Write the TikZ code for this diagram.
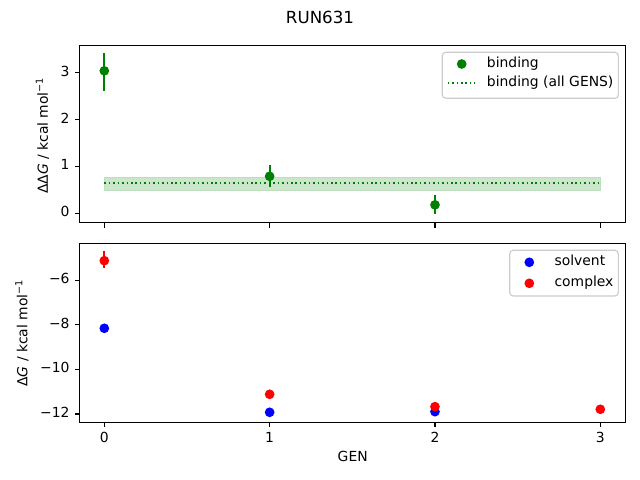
\documentclass[tikz,border=0pt]{standalone}
\usepackage{fontspec}
\setmainfont{DejaVu Sans}
\definecolor{mgreen}{RGB}{0,128,0}
\definecolor{mblue}{RGB}{0,0,255}
\definecolor{mred}{RGB}{255,0,0}
\definecolor{bandfill}{RGB}{204,230,204}
\definecolor{bandedge}{RGB}{190,222,190}
\definecolor{legedge}{RGB}{204,204,204}
\tikzset{
  lbl/.style={inner sep=0pt, text height=7.3pt, text depth=2.3pt},
  frame/.style={draw=black, line width=0.8pt},
  tck/.style={draw=black, line width=0.8pt},
  ebar/.style={line width=1.5pt},
  dot/.style={radius=3.5pt},
  legbox/.style={draw=legedge, fill=white, fill opacity=0.8, line width=0.8pt, rounded corners=2.5pt},
  dotline/.style={mgreen, line width=1.2pt, dash pattern=on 1.1pt off 2.1pt},
}
\begin{document}
\begin{tikzpicture}[x=0.72pt,y=-0.72pt, font=\fontsize{10}{12}\selectfont]
\fill[white] (0,0) rectangle (640,480);
\useasboundingbox (0,0) rectangle (640,480);

% title
\node[font=\fontsize{12}{14}\selectfont, inner sep=0pt] (title) at (320,17) {RUN631};

% ---------- top panel ----------
\begin{scope}[shift={(75.10pt,-153.58pt)}, x=119.04pt, y=33.746pt]
  \filldraw[fill=bandfill, draw=bandedge, line width=0.6pt] (0,0.482) rectangle (3,0.774);
  \draw[dotline] (0,0.646) -- (3,0.646);
  % data
  \draw[mgreen, ebar] (0,2.61) -- (0,3.41);
  \fill[mgreen] (0,3.04) circle[dot];
  \draw[mgreen, ebar] (1,0.57) -- (1,1.03);
  \fill[mgreen] (1,0.79) circle[dot];
  \draw[mgreen, ebar] (2,-0.02) -- (2,0.39);
  \fill[mgreen] (2,0.18) circle[dot];
  % frame
  \draw[frame] (-0.15,-0.2006) rectangle (3.15,3.584);
  \foreach \v in {0,1,2,3} {
    \draw[tck] (-0.15,\v) -- ++(-3.5pt,0);
    \node[lbl, anchor=east] (ty\v) at ([xshift=-7pt]-0.15,\v) {\v};
  }
  \foreach \g in {0,1,2,3} {
    \draw[tck] (\g,-0.2006) -- ++(0,-3.5pt);
  }
\end{scope}

\node[lbl, rotate=90] (ylabtop) at (44.5,135.5) {ΔΔ\textit{G} / kcal mol\textsuperscript{−1}};

% legend top
\draw[legbox] (442.3,52.3) rectangle (618.3,98.3);
\fill[mgreen] (461.7,64) circle[dot];
\node[lbl, anchor=west] (legbind) at (486.7,64) {binding};
\draw[dotline] (447.7,83.3) -- (475,83.3);
\node[lbl, anchor=west] (legall) at (486.7,83.3) {binding (all GENS)};

% ---------- bottom panel ----------
\begin{scope}[shift={(75.10pt,-105.57pt)}, x=119.04pt, y=16.04pt]
  % solvent
  \fill[mblue] (0,-8.154) circle[dot];
  \fill[mblue] (1,-11.925) circle[dot];
  \fill[mblue] (2,-11.897) circle[dot];
  % complex
  \draw[mred, ebar] (0,-5.434) -- (0,-4.685);
  \fill[mred] (0,-5.12) circle[dot];
  \draw[mred, ebar] (1,-11.2) -- (1,-11.03);
  \fill[mred] (1,-11.117) circle[dot];
  \fill[mred] (2,-11.673) circle[dot];
  \fill[mred] (3,-11.79) circle[dot];
  % frame
  \draw[frame] (-0.15,-12.373) rectangle (3.15,-4.357);
  \foreach \v/\t in {-6/−6,-8/−8,-10/−10,-12/−12} {
    \draw[tck] (-0.15,\v) -- ++(-3.5pt,0);
    \node[lbl, anchor=east] (by\v) at ([xshift=-7pt]-0.15,\v) {\t};
  }
  \foreach \g in {0,1,2,3} {
    \draw[tck] (\g,-12.373) -- ++(0,-3.5pt);
    \node[lbl, anchor=north] (bx\g) at ([yshift=-7pt]\g,-12.373) {\g};
  }
\end{scope}

\node[lbl, rotate=90] (ylabbot) at (24,333) {Δ\textit{G} / kcal mol\textsuperscript{−1}};
\node[lbl] (xlab) at (352.7,457.7) {GEN};

% legend bottom
\draw[legbox] (509.7,250.3) rectangle (618.3,296);
\fill[mblue] (529.3,262.3) circle[dot];
\node[lbl, anchor=west] (legsolv) at (554.3,262.3) {solvent};
\fill[mred] (529.3,283.3) circle[dot];
\node[lbl, anchor=west] (legcomp) at (554.3,283.3) {complex};
\end{tikzpicture}
\end{document}
